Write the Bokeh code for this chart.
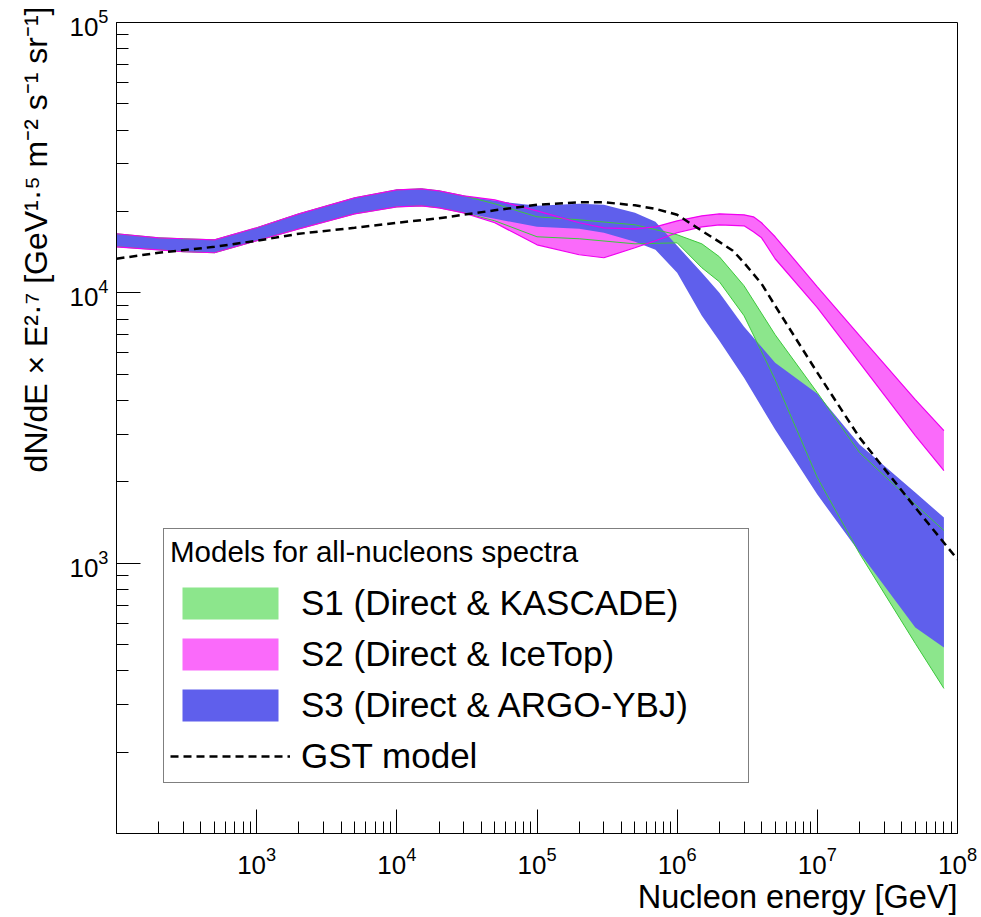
from bokeh.plotting import figure
from bokeh.models import FixedTicker, Legend, LegendItem, Title
from bokeh.embed import file_html
from bokeh.resources import INLINE

# ---------------- data ----------------
# Energies in GeV; fluxes in GeV^1.5 m^-2 s^-1 sr^-1
# Low-energy part common to the three models (band upper / lower edges)
e_common = [1e2, 2e2, 3e2, 5e2, 1e3, 2e3, 5e3, 1e4, 1.5e4, 2e4, 3e4]
common_hi = [16540, 15980, 15850, 15710, 17400, 19600, 22460, 24040, 24250, 23840, 22850]
common_lo = [14800, 14430, 14190, 14070, 15580, 17250, 19600, 20800, 20980, 20630, 19770]

# S1 (Direct & KASCADE)
e_s1 = [5e4, 1e5, 2e5, 5e5, 1e6, 1.5e6, 2e6, 3e6, 5e6, 1e7, 2e7, 5e7, 8e7]
s1_hi = [21350, 19110, 18630, 17850, 16400, 15180, 13600, 10620, 7000, 4273, 2566, 1648, 1321]
s1_lo = [18470, 16120, 15850, 15180, 15310, 12380, 10990, 8230, 4775, 2073, 1086, 505, 344]

# S2 (Direct & IceTop)
e_s2 = [5e4, 1e5, 2e5, 3e5, 5e5, 7e5, 1e6, 1.5e6, 2e6, 3e6, 3.5e6, 4e6, 5e6, 1e7, 2e7, 5e7, 8e7]
s2_hi = [22080, 20110, 18160, 17400, 17250, 17550, 18470, 19270, 19600, 19440, 19110, 18160, 16120,
         10530, 6940, 4027, 3094]
s2_lo = [18160, 15050, 13830, 13480, 14680, 15580, 16680, 17550, 17850, 17700, 16810, 15980, 13370,
         8810, 5515, 2965, 2201]

# S3 (Direct & ARGO-YBJ)
e_s3 = [5e4, 1e5, 2e5, 3e5, 5e5, 7e5, 1e6, 1.5e6, 2e6, 3e6, 5e6, 1e7, 2e7, 5e7, 8e7]
s3_hi = [21900, 20980, 21350, 21160, 19770, 18310, 14930, 11870, 10010, 7495, 5515, 4237, 2747, 1825, 1475]
s3_lo = [18790, 17550, 17250, 16680, 15440, 14430, 11870, 8230, 6650, 4856, 3120, 1794, 1095, 578.6, 488]

# GST model
e_gst = [1e2, 2e2, 5e2, 1e3, 2e3, 5e3, 1e4, 2e4, 5e4, 1e5, 2e5, 3e5, 5e5, 7e5,
         1e6, 1.5e6, 2e6, 2.5e6, 3e6, 4e6, 5e6, 1e7, 2e7, 5e7, 1e8]
gst = [13370, 14070, 14800, 15580, 16540, 17400, 18160, 18870, 20200, 21160, 21620, 21620,
       21070, 20450, 19440, 16960, 15440, 14310, 12920, 10800, 8960, 5066, 2914, 1606, 1032]

labels = ["S1 (Direct & KASCADE)", "S2 (Direct & IceTop)", "S3 (Direct & ARGO-YBJ)", "GST model"]
legend_title = "Models for all-nucleons spectra"
x_title = "Nucleon energy [GeV]"
y_title = "dN/dE × E²·⁷ [GeV¹·⁵ m⁻² s⁻¹ sr⁻¹]"
x_major = [1e3, 1e4, 1e5, 1e6, 1e7, 1e8]
y_major = [1e3, 1e4, 1e5]

# ---------------- styling ----------------
FONT = "Liberation Sans"
C_GREEN = "#8ce68c"
C_GREEN_EDGE = "#3cc83c"
C_MAG = "#fa6afa"
C_MAG_EDGE = "#f000f0"
C_BLUE = "#5f5fec"

p = figure(width=981, height=917, x_axis_type="log", y_axis_type="log",
           x_range=(1e2, 1e8), y_range=(1e2, 1e5),
           output_backend="svg", toolbar_location=None,
           min_border_left=116, min_border_right=24, min_border_top=22, min_border_bottom=84)
p.grid.visible = False
p.outline_line_color = "black"
p.outline_line_width = 1
p.background_fill_color = "white"
p.border_fill_color = "white"

x_minor = [m * 10 ** k for k in range(2, 8) for m in range(2, 10)]
y_minor = [m * 10 ** k for k in range(2, 5) for m in range(2, 10)]
p.xaxis.ticker = FixedTicker(ticks=x_major, minor_ticks=x_minor)
p.yaxis.ticker = FixedTicker(ticks=y_major, minor_ticks=y_minor)
for ax in (p.xaxis, p.yaxis):
    ax.major_tick_in = 24
    ax.major_tick_out = 0
    ax.minor_tick_in = 12
    ax.minor_tick_out = 0
    ax.axis_line_color = "black"
    ax.major_tick_line_color = "black"
    ax.minor_tick_line_color = "black"
    ax.major_label_text_font = FONT
    ax.major_label_text_font_size = "26px"
    ax.major_label_text_color = "black"
p.xaxis.major_label_standoff = 13
p.yaxis.major_label_standoff = 8

# bands
x1 = e_common + e_s1
x2 = e_common + e_s2
x3 = e_common + e_s3
r1 = p.varea(x=x1, y1=common_lo + s1_lo, y2=common_hi + s1_hi, fill_color=C_GREEN, fill_alpha=1.0)
r2 = p.varea(x=x2, y1=common_lo + s2_lo, y2=common_hi + s2_hi, fill_color=C_MAG, fill_alpha=1.0)
r3 = p.varea(x=x3, y1=common_lo + s3_lo, y2=common_hi + s3_hi, fill_color=C_BLUE, fill_alpha=1.0)

# band edges
p.line(x=x1, y=common_hi + s1_hi, line_color=C_GREEN_EDGE, line_width=1)
p.line(x=x1, y=common_lo + s1_lo, line_color=C_GREEN_EDGE, line_width=1)
p.line(x=x2, y=common_hi + s2_hi, line_color=C_MAG_EDGE, line_width=1.2)
p.line(x=x2, y=common_lo + s2_lo, line_color=C_MAG_EDGE, line_width=1.2)

r4 = p.line(x=e_gst, y=gst, line_color="black", line_width=2.5, line_dash="8 5")

legend = Legend(
    items=[LegendItem(label=labels[0], renderers=[r1]),
           LegendItem(label=labels[1], renderers=[r2]),
           LegendItem(label=labels[2], renderers=[r3]),
           LegendItem(label=labels[3], renderers=[r4])],
    location=(47, 50), title=legend_title,
    border_line_color="black", border_line_width=1,
    background_fill_color="white", background_fill_alpha=1.0,
    padding=6, spacing=11, margin=0,
    glyph_width=120, glyph_height=40, label_height=40, label_width=441, label_standoff=11,
    label_text_font=FONT, label_text_font_size="35px", label_text_color="black",
    title_text_font=FONT, title_text_font_size="29.5px", title_text_font_style="normal",
    title_text_color="black", title_standoff=14,
)
p.add_layout(legend)

p.add_layout(Title(text=x_title, align="right", text_font=FONT,
                   text_font_size="32.5px", text_font_style="normal", text_color="black",
                   standoff=0), "below")
p.add_layout(Title(text=y_title, align="right", text_font=FONT,
                   text_font_size="32px", text_font_style="normal", text_color="black",
                   offset=-16, standoff=26), "left")

open("out.html", "w").write(file_html(p, INLINE))
